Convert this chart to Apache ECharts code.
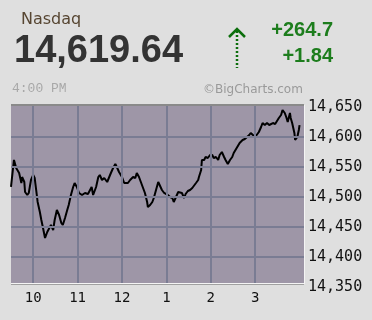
<!DOCTYPE html>
<html>
<head>
<meta charset="utf-8">
<script src="https://cdn.jsdelivr.net/npm/echarts@6/dist/echarts.min.js"></script>
<style>
html,body{margin:0;padding:0;background:#dfdfdf;}
#chart{width:372px;height:320px;}
</style>
</head>
<body>
<div id="chart"></div>
<script>
// minutes since 9:30 AM
var times = [0,4,7,11,14,15,18,19,22,24,27,30,32,34,36,39,41,43,46,49,51,54,57,59,62,65,68,70,73,76,78,81,84,86,89,92,96,100,104,109,111,115,118,120,123,126,130,132,135,138,141,143,146,150,153,155,158,161,165,168,170,173,176,178,181,184,185,188,191,193,196,199,201,204,207,209,212,215,218,220,223,226,228,231,234,236,239,242,245,247,250,253,254,257,258,261,263,266,269,272,274,277,280,282,285,288,290,293,296,299,301,305,309,313,316,319,322,324,327,330,332,335,338,340,343,346,349,351,354,357,359,362,365,367,370,372,374,377,378,380,383,384,385,387,389,390];
var prices = [14516.7,14561.7,14548.3,14540,14523.3,14533.3,14525,14508.3,14503.3,14506.7,14528.3,14536.7,14531.7,14511.7,14491.7,14475,14461.7,14450,14431.7,14441.7,14445,14453.3,14445,14461.7,14478.3,14470,14456.7,14453.3,14465,14478.3,14486.7,14503.3,14516.7,14523.3,14516.7,14506.7,14503.3,14506.7,14505,14516.7,14503.3,14516.7,14533.3,14536.7,14528.3,14531.7,14525,14528.3,14540,14548.3,14555,14550,14541.7,14533.3,14523.3,14525,14523.3,14528.3,14533.3,14531.7,14540,14533.3,14523.3,14516.7,14506.7,14491.7,14483.3,14486.7,14491.7,14498.3,14511.7,14525,14523.3,14511.7,14506.7,14508.3,14503.3,14500,14498.3,14491.7,14500,14508.3,14510,14506.7,14498.3,14505,14510,14511.7,14515,14516.7,14523.3,14528.3,14533.3,14545,14561.7,14561.7,14566.7,14565,14570,14570,14565,14566.7,14561.7,14570,14575,14566.7,14561.7,14555,14561.7,14566.7,14573.3,14581.7,14590,14595,14596.7,14600,14603.3,14606.7,14603.3,14600,14598.3,14608.3,14616.7,14623.3,14620,14623.3,14620,14621.7,14623.3,14621.7,14625,14631.7,14636.7,14645,14640,14633.3,14625,14640,14631.7,14623.3,14606.7,14595,14591.7,14600,14611.7,14619.64];
var xTickValues = [30,90,150,210,270,330];
var xTickLabels = ['10','11','12','1','2','3'];
var yTickValues = [14400,14450,14500,14550,14600];
var yLabelMin = 14350, yLabelMax = 14650;
var header = {name:'Nasdaq', last:'14,619.64', change:'+264.7', pct:'+1.84', time:'4:00 PM', credit:'\u00A9BigCharts.com'};

var chart = echarts.init(document.getElementById('chart'), null, {renderer:'canvas'});
var green = '#1d7d1d';
var option = {
  backgroundColor:'#dfdfdf',
  animation:false,
  grid:[
    {left:11, top:105, width:293, height:178, show:true, backgroundColor:'#9e96a7', borderWidth:0},
    {left:11, top:107, width:293, height:180, show:false}
  ],
  xAxis:[
    {type:'value', gridIndex:0, min:0, max:396,
     axisLine:{show:false}, axisTick:{show:false}, splitLine:{show:false},
     axisLabel:{show:true, customValues:xTickValues, margin:8,
       formatter:function(v){var i=xTickValues.indexOf(v);return i>=0?xTickLabels[i]:'';},
       color:'#111', fontFamily:'DejaVu Sans Mono', fontSize:14}},
    {type:'value', gridIndex:1, min:0, max:396, show:false}
  ],
  yAxis:[
    {type:'value', gridIndex:0, min:14356.67, max:14653.33, show:false, splitLine:{show:false}},
    {type:'value', gridIndex:1, position:'right', min:yLabelMin, max:yLabelMax, interval:50,
     axisLine:{show:false}, axisTick:{show:false}, splitLine:{show:false},
     axisLabel:{margin:4, color:'#111', fontFamily:'DejaVu Sans Mono', fontSize:15,
       formatter:function(v){return v.toLocaleString('en-US');}}}
  ],
  series:[
    {type:'line', xAxisIndex:0, yAxisIndex:0, data:[], z:1, silent:true,
     markLine:{silent:true, symbol:['none','none'], label:{show:false}, animation:false,
       lineStyle:{color:'#7a7c93', width:2, type:'solid'},
       data: yTickValues.map(function(v){return {yAxis:v};}).concat(xTickValues.map(function(v){return {xAxis:v};}))}},
    {type:'line', xAxisIndex:0, yAxisIndex:0, z:3, symbol:'none', showSymbol:false,
     lineStyle:{color:'#000', width:2},
     data: times.map(function(t,i){return [t, prices[i]];})}
  ],
  graphic:[
    {type:'line', shape:{x1:11,y1:105,x2:304,y2:105}, style:{stroke:'#8a8a8a', lineWidth:2}, z:10},
    {type:'line', shape:{x1:11,y1:283.5,x2:304,y2:283.5}, style:{stroke:'#f4f4f4', lineWidth:1}, z:10},
    {type:'line', shape:{x1:11,y1:284.5,x2:304,y2:284.5}, style:{stroke:'#a0a0a0', lineWidth:1}, z:10},
    {type:'line', shape:{x1:304.5,y1:105,x2:304.5,y2:284}, style:{stroke:'#f4f4f4', lineWidth:1}, z:10},
    {type:'text', style:{x:21, y:19.5, text:header.name, font:'16px "DejaVu Sans"', fill:'#574632', verticalAlign:'middle'}},
    {type:'text', style:{x:14, y:52, text:header.last, font:'bold 38px "Liberation Sans"', fill:'#333333', verticalAlign:'middle'}},
    {type:'text', style:{x:333, y:30, text:header.change, font:'bold 20px "Liberation Sans"', fill:green, textAlign:'right', verticalAlign:'middle'}},
    {type:'text', style:{x:333, y:56, text:header.pct, font:'bold 20px "Liberation Sans"', fill:green, textAlign:'right', verticalAlign:'middle'}},
    {type:'text', style:{x:12, y:89, text:header.time, font:'13px "Liberation Mono"', fill:'#a8a8a8', verticalAlign:'middle'}},
    {type:'text', style:{x:203, y:89.5, text:header.credit, font:'12px "DejaVu Sans"', fill:'#9a9a9a', verticalAlign:'middle'}},
    {type:'polyline', shape:{points:[[229,37],[237,29],[245,37]]}, style:{stroke:'#0c6e0c', lineWidth:2.5, fill:null}},
    {type:'line', shape:{x1:237,y1:31,x2:237,y2:68}, style:{stroke:'#0c6e0c', lineWidth:2.5, lineDash:[2,2]}}
  ]
};
chart.setOption(option);
</script>
</body>
</html>
